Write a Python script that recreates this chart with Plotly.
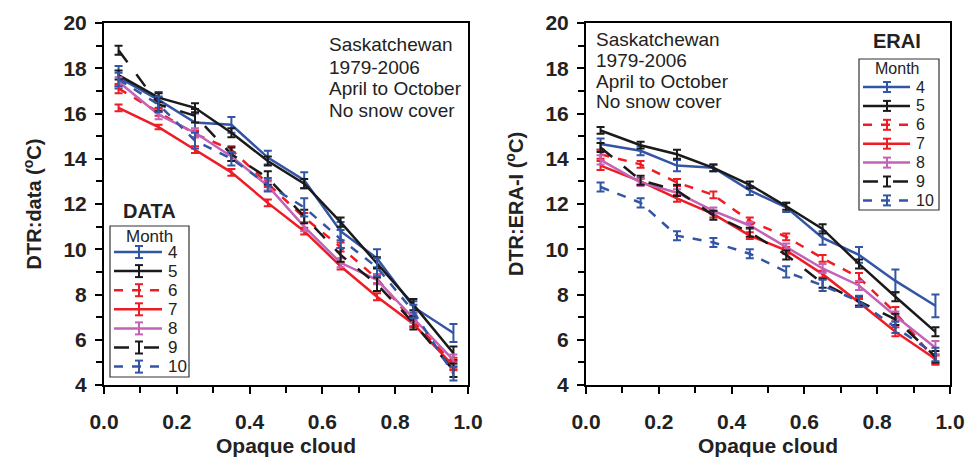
import plotly.graph_objects as go

# ---------------- data ----------------
cloud = [0.04, 0.15, 0.25, 0.35, 0.45, 0.55, 0.65, 0.75, 0.85, 0.96]
months = ["4", "5", "6", "7", "8", "9", "10"]

data_vals = {
    "4":  [17.6, 16.6, 15.6, 15.5, 14.05, 13.05, 10.8, 9.6, 7.45, 6.3],
    "5":  [17.7, 16.7, 16.25, 15.15, 13.9, 12.9, 11.2, 9.4, 7.55, 5.4],
    "6":  [17.1, 16.05, 15.1, 14.4, 12.9, 11.4, 10.1, 8.7, 6.8, 4.95],
    "7":  [16.25, 15.4, 14.4, 13.4, 12.05, 10.8, 9.25, 7.9, 6.7, 4.85],
    "8":  [17.4, 15.95, 15.15, 14.1, 12.8, 11.0, 9.4, 8.65, 6.95, 5.1],
    "9":  [18.8, 16.4, 15.9, 14.2, 13.15, 11.45, 9.75, 8.45, 6.75, 4.65],
    "10": [17.5, 16.4, 14.8, 14.0, 12.85, 11.85, 10.45, 9.2, 7.25, 4.5],
}
data_err = {
    "4":  [0.5, 0.35, 0.4, 0.35, 0.3, 0.35, 0.4, 0.4, 0.25, 0.4],
    "5":  [0.2, 0.2, 0.2, 0.2, 0.2, 0.2, 0.2, 0.25, 0.25, 0.3],
    "6":  [0.2, 0.15, 0.15, 0.15, 0.15, 0.2, 0.2, 0.2, 0.2, 0.25],
    "7":  [0.15, 0.1, 0.15, 0.15, 0.15, 0.15, 0.15, 0.15, 0.15, 0.2],
    "8":  [0.2, 0.2, 0.2, 0.2, 0.2, 0.2, 0.2, 0.2, 0.2, 0.25],
    "9":  [0.2, 0.3, 0.3, 0.3, 0.3, 0.3, 0.3, 0.3, 0.3, 0.3],
    "10": [0.3, 0.35, 0.35, 0.3, 0.3, 0.4, 0.4, 0.4, 0.3, 0.3],
}

erai_vals = {
    "4":  [14.65, 14.35, 13.7, 13.6, 12.6, 11.85, 10.5, 9.75, 8.6, 7.5],
    "5":  [15.25, 14.6, 14.2, 13.6, 12.85, 11.9, 10.9, 9.35, 7.9, 6.35],
    "6":  [14.2, 13.75, 12.95, 12.4, 11.25, 10.55, 9.6, 8.75, 7.2, 5.1],
    "7":  [13.7, 13.0, 12.25, 11.55, 10.6, 9.95, 8.9, 7.65, 6.35, 5.15],
    "8":  [13.95, 12.95, 12.5, 11.7, 11.05, 10.1, 9.15, 8.4, 7.05, 5.65],
    "9":  [14.5, 13.05, 12.6, 11.5, 10.75, 9.75, 8.5, 7.7, 6.9, 5.25],
    "10": [12.75, 12.05, 10.6, 10.3, 9.8, 9.0, 8.4, 7.7, 6.55, 5.35],
}
erai_err = {
    "4":  [0.25, 0.2, 0.25, 0.15, 0.2, 0.2, 0.3, 0.35, 0.5, 0.5],
    "5":  [0.15, 0.15, 0.2, 0.15, 0.15, 0.15, 0.2, 0.2, 0.2, 0.2],
    "6":  [0.2, 0.15, 0.15, 0.15, 0.15, 0.15, 0.15, 0.2, 0.25, 0.2],
    "7":  [0.2, 0.15, 0.15, 0.15, 0.15, 0.15, 0.15, 0.15, 0.2, 0.2],
    "8":  [0.2, 0.15, 0.15, 0.15, 0.15, 0.15, 0.2, 0.2, 0.2, 0.3],
    "9":  [0.2, 0.2, 0.25, 0.2, 0.2, 0.2, 0.2, 0.2, 0.25, 0.25],
    "10": [0.2, 0.2, 0.2, 0.2, 0.2, 0.25, 0.25, 0.25, 0.25, 0.3],
}

note_lines = ["Saskatchewan", "1979-2006", "April to October", "No snow cover"]

# ---------------- styles ----------------
W, H = 976, 457
BLUE = "#3355a5"
BLACK = "#1a1a1a"
RED = "#ee1c25"
MAG = "#c462b5"
TXT = "#222222"
style = {
    "4":  (BLUE, "solid"),
    "5":  (BLACK, "solid"),
    "6":  (RED, "dash"),
    "7":  (RED, "solid"),
    "8":  (MAG, "solid"),
    "9":  (BLACK, "longdash"),
    "10": (BLUE, "dash"),
}
FONT = "Liberation Sans, Arial, sans-serif"


def px(x):
    return x / W


def py(y):
    return 1 - y / H


fig = go.Figure()

for vals, errs, xa, ya in [
    (data_vals, data_err, "x", "y"),
    (erai_vals, erai_err, "x2", "y2"),
]:
    for m in months:
        col, dash = style[m]
        fig.add_trace(go.Scatter(
            x=cloud, y=vals[m], name=m, mode="lines",
            line=dict(color=col, width=2.5, dash=dash),
            error_y=dict(type="data", array=errs[m], visible=True,
                         color=col, thickness=2, width=4),
            xaxis=xa, yaxis=ya, showlegend=False,
        ))

axis_common = dict(
    showline=True, linecolor="black", linewidth=2, mirror=True,
    ticks="outside", ticklen=7, tickwidth=1.5, tickcolor="black",
    showgrid=False, zeroline=False, automargin=False,
    tickfont=dict(family=FONT, size=21, color=TXT),
    tickprefix="<b>", ticksuffix="</b>",
)
xcommon = dict(axis_common, range=[0, 1], dtick=0.2, tickformat=".1f",
               minor=dict(dtick=0.1, ticks="outside", ticklen=6, tickcolor="black", tickwidth=1.5),
               ticklabelstandoff=10,
               title=dict(text="<b>Opaque cloud</b>", font=dict(family=FONT, size=21, color=TXT), standoff=6))
ycommon = dict(axis_common, range=[4, 20], dtick=2,
               minor=dict(dtick=1, ticks="outside", ticklen=6, tickcolor="black", tickwidth=1.5),
               ticklabelstandoff=4)

ydom = [py(385), py(23)]
fig.update_layout(
    width=W, height=H,
    margin=dict(l=0, r=0, t=0, b=0),
    paper_bgcolor="white", plot_bgcolor="white",
    font=dict(family=FONT, color=TXT),
    showlegend=False,
    xaxis=dict(xcommon, domain=[px(104), px(468)], anchor="y"),
    yaxis=dict(ycommon, domain=ydom, anchor="x",
               title=dict(text="<b>DTR:data (<sup>o</sup>C)</b>", font=dict(family=FONT, size=20, color=TXT), standoff=16)),
    xaxis2=dict(xcommon, domain=[px(586), px(950)], anchor="y2"),
    yaxis2=dict(ycommon, domain=ydom, anchor="x2",
                title=dict(text="<b>DTR:ERA-I (<sup>o</sup>C)</b>", font=dict(family=FONT, size=20, color=TXT), standoff=16)),
)

# note text blocks
for x0, centers in [(327, [45, 67, 89, 110]), (594, [39, 60, 81, 102])]:
    for line, yc in zip(note_lines, centers):
        fig.add_annotation(text=line, xref="paper", yref="paper",
                           x=px(x0), y=py(yc), xanchor="left", yanchor="middle",
                           showarrow=False, font=dict(family=FONT, size=19, color=TXT))

fig.add_annotation(text="<b>DATA</b>", xref="paper", yref="paper",
                   x=px(149), y=py(211), xanchor="center", yanchor="middle",
                   showarrow=False, font=dict(family=FONT, size=20, color=TXT))
fig.add_annotation(text="<b>ERAI</b>", xref="paper", yref="paper",
                   x=px(897), y=py(41), xanchor="center", yanchor="middle",
                   showarrow=False, font=dict(family=FONT, size=20, color=TXT))

# hand-drawn legends (to reproduce error-bar glyphs and compact spacing)
legends = [
    dict(box=(110, 226, 189, 377), title_xy=(149, 236), y0=252, dy=19.1,
         lx=(114, 162), ix=139, tx=166, fs=17, ih=6),
    dict(box=(859, 59, 939, 210), title_xy=(897, 69), y0=87, dy=18.9,
         lx=(863, 910), ix=887, tx=914, fs=16, ih=5),
]
for L in legends:
    bx0, by0, bx1, by1 = L["box"]
    fig.add_shape(type="rect", xref="paper", yref="paper",
                  x0=px(bx0), y0=py(by0), x1=px(bx1), y1=py(by1),
                  line=dict(color="#333", width=1.2), fillcolor="white", layer="above")
    fig.add_annotation(text="Month", xref="paper", yref="paper",
                       x=px(L["title_xy"][0]), y=py(L["title_xy"][1]),
                       xanchor="center", yanchor="middle", showarrow=False,
                       font=dict(family=FONT, size=L["fs"], color=TXT))
    for i, m in enumerate(months):
        col, dash = style[m]
        yy = L["y0"] + i * L["dy"]
        fig.add_shape(type="line", xref="paper", yref="paper",
                      x0=px(L["lx"][0]), x1=px(L["lx"][1]), y0=py(yy), y1=py(yy),
                      line=dict(color=col, width=2.5, dash=dash), layer="above")
        ix, ih = L["ix"], L["ih"]
        fig.add_shape(type="line", xref="paper", yref="paper",
                      x0=px(ix), x1=px(ix), y0=py(yy - ih), y1=py(yy + ih),
                      line=dict(color=col, width=2), layer="above")
        for cy in (yy - ih, yy + ih):
            fig.add_shape(type="line", xref="paper", yref="paper",
                          x0=px(ix - 4), x1=px(ix + 4), y0=py(cy), y1=py(cy),
                          line=dict(color=col, width=2), layer="above")
        fig.add_annotation(text=m, xref="paper", yref="paper",
                           x=px(L["tx"]), y=py(yy), xanchor="left", yanchor="middle",
                           showarrow=False, font=dict(family=FONT, size=L["fs"], color=TXT))

fig.write_html("out.html")
